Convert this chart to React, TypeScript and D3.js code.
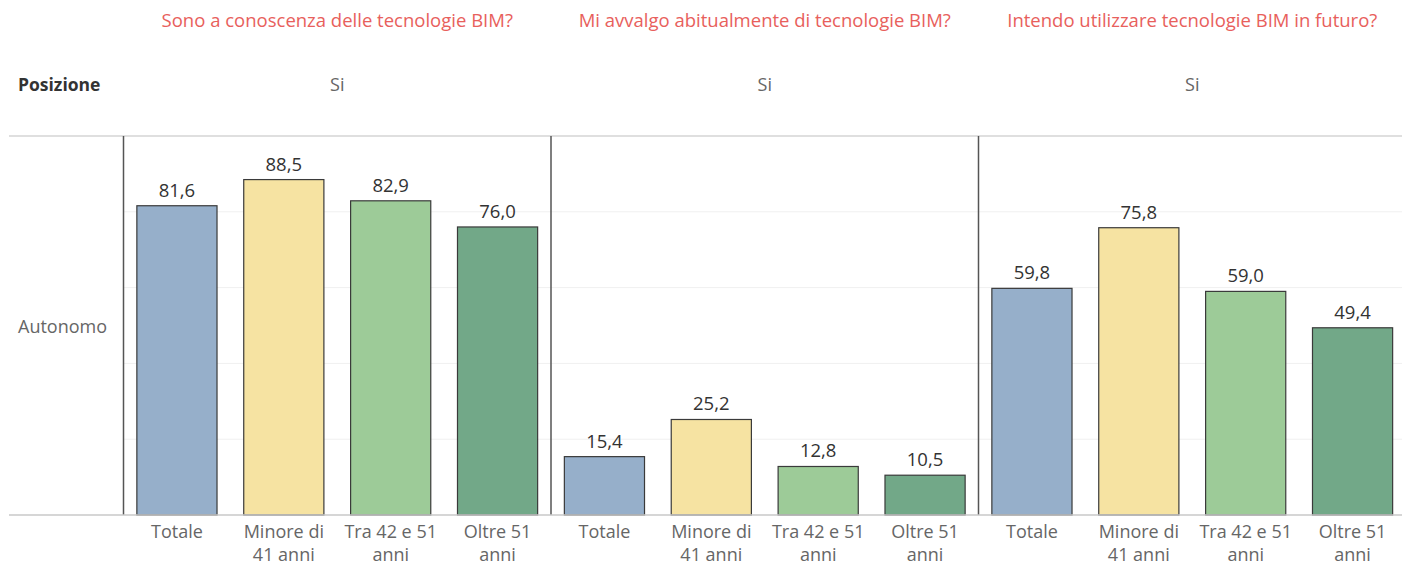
import React from "react";
import * as d3 from "d3";

const questions = [
  "Sono a conoscenza delle tecnologie BIM?",
  "Mi avvalgo abitualmente di tecnologie BIM?",
  "Intendo utilizzare tecnologie BIM in futuro?",
];
const answerLabel = "Si";
const rowLabel = "Autonomo";
const headerLabel = "Posizione";
const categories = ["Totale", "Minore di 41 anni", "Tra 42 e 51 anni", "Oltre 51 anni"];
const categoryLines = [["Totale"], ["Minore di", "41 anni"], ["Tra 42 e 51", "anni"], ["Oltre 51", "anni"]];
const valuesQ1 = [81.6, 88.5, 82.9, 76.0];
const valuesQ2 = [15.4, 25.2, 12.8, 10.5];
const valuesQ3 = [59.8, 75.8, 59.0, 49.4];
const seriesValues = [valuesQ1, valuesQ2, valuesQ3];
const gridTicks = [20, 40, 60, 80];
const colors = ["#96afca", "#f6e3a2", "#9dcb98", "#72a888"];

const W = 1402;
const H = 566;
const left = 123.5;
const panelW = 427.5;
const top = 136;
const base = 515;
const font = "'Open Sans', sans-serif";

export default function App() {
  const y = d3.scaleLinear().domain([0, 100]).range([base, top]);
  const fmt = (v: number) => v.toFixed(1).replace(".", ",");
  return (
    <svg width={W} height={H} style={{ position: "absolute", left: 0, top: 0, background: "#fff" }} fontFamily={font}>
      <text x={18} y={85} dy="0.35em" fontSize={17.5} fontWeight={700} fill="#333">{headerLabel}</text>
      <text x={18} y={327} dy="0.35em" fontSize={18} fill="#666">{rowLabel}</text>
      <line x1={9} x2={W} y1={top} y2={top} stroke="#d4d4d4" strokeWidth={1.5} />
      {questions.map((q, i) => {
        const x0 = left + i * panelW;
        const xb = d3.scaleBand<string>().domain(categories).range([x0, x0 + panelW]).paddingInner(0.25).paddingOuter(0.125);
        const vals = seriesValues[i];
        return (
          <g key={q}>
            <text x={x0 + panelW / 2} y={21} dy="0.35em" textAnchor="middle" fontSize={18.5} fill="#e8605c">{q}</text>
            <text x={x0 + panelW / 2} y={85} dy="0.35em" textAnchor="middle" fontSize={18} fill="#666">{answerLabel}</text>
            {gridTicks.map((t) => (
              <line key={t} x1={x0} x2={x0 + panelW} y1={y(t)} y2={y(t)} stroke="#f0f0f0" strokeWidth={1} />
            ))}
            {categories.map((c, j) => (
              <g key={c}>
                <rect x={xb(c)!} y={y(vals[j])} width={xb.bandwidth()} height={base - y(vals[j])} fill={colors[j]} stroke="#3a3a3a" strokeWidth={1.2} />
                <text x={xb(c)! + xb.bandwidth() / 2} y={y(vals[j]) - 9} textAnchor="middle" fontSize={18.5} fill="#333">{fmt(vals[j])}</text>
                {categoryLines[j].map((ln, k) => (
                  <text key={k} x={xb(c)! + xb.bandwidth() / 2} y={532 + k * 23} dy="0.35em" textAnchor="middle" fontSize={18} fill="#666">{ln}</text>
                ))}
              </g>
            ))}
            <line x1={x0} x2={x0} y1={top} y2={base} stroke="#555" strokeWidth={1.5} />
          </g>
        );
      })}
      <line x1={9} x2={W} y1={base} y2={base} stroke="#c8c8c8" strokeWidth={1.5} />
    </svg>
  );
}
